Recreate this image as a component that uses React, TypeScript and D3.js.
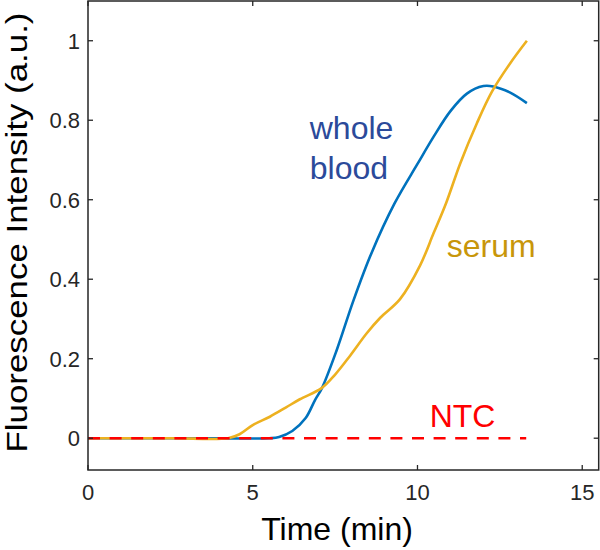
import React from "react";
import * as d3 from "d3";

// ---- data ----
const xTicks = [0, 5, 10, 15];
const yTicks = [0, 0.2, 0.4, 0.6, 0.8, 1];
const yTickLabels = ["0", "0.2", "0.4", "0.6", "0.8", "1"];

const wholeBloodT = [0, 3, 5.5, 5.8, 6.2, 6.6, 6.89, 7.1, 7.55, 8.05, 8.6, 9.3, 10.0, 10.5, 11.0, 11.5, 12.0, 12.3, 12.8, 13.32];
const wholeBloodV = [0, 0, 0, 0.003, 0.018, 0.05, 0.096, 0.126, 0.222, 0.345, 0.465, 0.59, 0.69, 0.76, 0.823, 0.867, 0.886, 0.885, 0.87, 0.843];

const serumT = [0, 2.5, 4.25, 4.6, 5.0, 5.52, 6.0, 6.43, 7.09, 7.5, 7.95, 8.46, 8.87, 9.47, 10.08, 10.49, 10.87, 11.3, 11.8, 12.26, 12.81, 13.32];
const serumV = [0, 0, 0, 0.01, 0.033, 0.054, 0.077, 0.098, 0.126, 0.16, 0.207, 0.264, 0.303, 0.35, 0.435, 0.516, 0.592, 0.692, 0.792, 0.872, 0.943, 1.0];

const ntcT = [0, 13.3];
const ntcV = [0, 0];

const labels = ["whole", "blood", "serum", "NTC"];

const W = 600;
const H = 550;
const FONT = "'Liberation Sans', Arial, Helvetica, sans-serif";

export default function App() {
  const left = 88, right = 598.7, top = 1, bottom = 470;
  const x = d3.scaleLinear().domain([0, 15.5]).range([left, right]);
  const y = d3.scaleLinear().domain([-0.08, 1.1]).range([bottom, top]);

  const line = d3
    .line<[number, number]>()
    .x((d) => x(d[0]))
    .y((d) => y(d[1]))
    .curve(d3.curveCatmullRom.alpha(0.5));

  const zip = (a: number[], b: number[]) => a.map((t, i) => [t, b[i]] as [number, number]);
  const axisColor = "#262626";
  const tickLen = 5;

  return (
    <svg width={W} height={H} style={{ position: "absolute", left: 0, top: 0, background: "#fff" }}>
      <rect x={0} y={0} width={W} height={H} fill="#fff" />
      <defs>
        <clipPath id="plot">
          <rect x={left} y={top} width={right - left} height={bottom - top} />
        </clipPath>
      </defs>
      <g clipPath="url(#plot)">
        <path d={line(zip(wholeBloodT, wholeBloodV)) || ""} fill="none" stroke="#0072BD" strokeWidth={2.6} />
        <path d={line(zip(serumT, serumV)) || ""} fill="none" stroke="#EDB120" strokeWidth={2.6} />
        <path d={line(zip(ntcT, ntcV)) || ""} fill="none" stroke="#FF0000" strokeWidth={2.6} strokeDasharray="12,9.6" />
      </g>
      {/* box */}
      <rect x={left} y={top} width={right - left} height={bottom - top} fill="none" stroke={axisColor} strokeWidth={1.5} />
      {xTicks.map((t) => (
        <g key={"xt" + t}>
          <line x1={x(t)} x2={x(t)} y1={bottom} y2={bottom - tickLen} stroke={axisColor} strokeWidth={1.3} />
          <line x1={x(t)} x2={x(t)} y1={top} y2={top + tickLen} stroke={axisColor} strokeWidth={1.3} />
          <text x={x(t)} y={500} textAnchor="middle" fontFamily={FONT} fontSize={22} fill={axisColor}>
            {t}
          </text>
        </g>
      ))}
      {yTicks.map((v, i) => (
        <g key={"yt" + v}>
          <line x1={left} x2={left + tickLen} y1={y(v)} y2={y(v)} stroke={axisColor} strokeWidth={1.3} />
          <line x1={right} x2={right - tickLen} y1={y(v)} y2={y(v)} stroke={axisColor} strokeWidth={1.3} />
          <text x={80} y={y(v)} dy="0.36em" textAnchor="end" fontFamily={FONT} fontSize={22} fill={axisColor}>
            {yTickLabels[i]}
          </text>
        </g>
      ))}
      <text x={337} y={540} textAnchor="middle" fontFamily={FONT} fontSize={32} fill="#000">
        Time (min)
      </text>
      <text
        transform={`translate(27, ${(top + bottom) / 2 - 3}) rotate(-90)`}
        textAnchor="middle"
        fontFamily={FONT}
        fontSize={30}
        textLength={440}
        lengthAdjust="spacingAndGlyphs"
        fill="#000"
      >
        Fluorescence Intensity (a.u.)
      </text>
      <text x={x(6.73)} y={y(0.752)} fontFamily={FONT} fontSize={32} fill="#2B4A9A">
        {labels[0]}
      </text>
      <text x={x(6.73)} y={y(0.652)} fontFamily={FONT} fontSize={32} fill="#2B4A9A">
        {labels[1]}
      </text>
      <text x={x(10.89)} y={y(0.456)} fontFamily={FONT} fontSize={32} fill="#C8960A">
        {labels[2]}
      </text>
      <text x={x(10.37)} y={y(0.029)} fontFamily={FONT} fontSize={32} fill="#FF0000">
        {labels[3]}
      </text>
    </svg>
  );
}
